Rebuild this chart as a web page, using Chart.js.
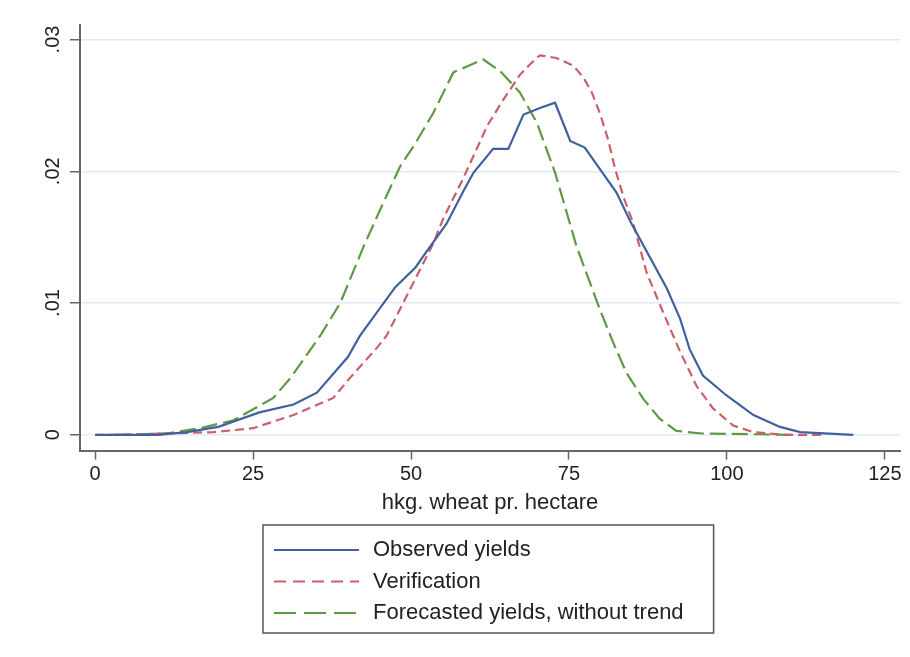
<!DOCTYPE html>
<html>
<head>
<meta charset="utf-8">
<script src="https://cdn.jsdelivr.net/npm/chart.js@4.4.1/dist/chart.umd.min.js"></script>
<style>
  html, body { margin: 0; padding: 0; background: #fff; }
  #wrap { width: 910px; height: 657px; }
</style>
</head>
<body>
<div id="wrap"><canvas id="densityChart"></canvas></div>
<script>
// values (x = hkg wheat per hectare, y = density)
const obsX = [0, 10, 14.5, 19.5, 26, 31.4, 35.1, 40, 41.9, 47.5, 50.7, 52, 55.6, 58.3, 59.9, 63, 65.4, 67.8, 70.4, 72.8, 75.2, 77.5, 82.5, 84.7, 90.5, 92.6, 94.1, 96.2, 99.9, 104.2, 108.4, 111.6, 120];
const obsY = [0, 0, .0002, .0006, .0017, .0023, .0032, .0059, .0075, .0112, .0127, .0136, .016, .0185, .0199, .0217, .0217, .0243, .0248, .0252, .0223, .0218, .0184, .0162, .0111, .0088, .0065, .0045, .003, .0015, .0006, .0002, 0];

const verX = [0, 5, 11, 18.7, 25, 31.4, 37.7, 40.3, 44.6, 46.1, 49.8, 53.5, 55.1, 58.3, 60.4, 62, 64.3, 67.2, 68.8, 70.4, 73, 75.7, 77.3, 78.6, 79.9, 81.2, 82.3, 83.6, 85.2, 87.3, 89.9, 92.6, 95.2, 97.8, 101, 104.2, 109, 115];
const verY = [0, 0, .0001, .0002, .0005, .0015, .0028, .0043, .0066, .0075, .011, .0145, .0164, .0195, .0217, .0234, .0252, .0273, .0281, .0288, .0286, .028, .0271, .026, .0244, .0224, .0202, .0181, .016, .0123, .0093, .0063, .0037, .002, .0007, .0002, 0, 0];

const fcX = [3, 11.3, 16.6, 21.9, 28.2, 30.9, 35.6, 38.8, 42.5, 45.6, 48.3, 50.4, 53.5, 56.7, 61.4, 64.1, 67.2, 69.9, 72.8, 76.2, 79.9, 82, 84.1, 86.8, 89.4, 92, 96, 110];
const fcY = [0, .0001, .0005, .0011, .0028, .0043, .0075, .01, .0143, .0176, .0204, .0219, .0244, .0275, .0285, .0276, .026, .0237, .0199, .0143, .0095, .007, .0047, .0027, .0012, .0003, .0001, 0];

const seriesNames = ['Observed yields', 'Verification', 'Forecasted yields, without trend'];
const xTicks = [0, 25, 50, 75, 100, 125];
const yTicks = [0, .01, .02, .03];

const FONT = '"Liberation Sans", Arial, Helvetica, sans-serif';
const pts = (xs, ys) => xs.map((x, i) => ({ x: x, y: ys[i] }));

// legend drawn as a boxed vertical list under the axis title
const boxLegend = {
  id: 'boxLegend',
  afterDraw(chart) {
    const ctx = chart.ctx;
    const area = chart.chartArea;
    const top = chart.scales.x.bottom + 5;
    const dashes = [[], [12, 7], [22, 8]];
    ctx.save();
    ctx.font = '22px ' + FONT;
    const textW = Math.max(...chart.data.datasets.map(d => ctx.measureText(d.label).width));
    const padL = 11, lineLen = 85, gap = 14, padR = 30, rowH = 31.5;
    const w = padL + lineLen + gap + textW + padR;
    const h = 108;
    const left = Math.round((area.left + area.right) / 2 - w / 2) - 2;
    ctx.strokeStyle = '#555';
    ctx.lineWidth = 1.5;
    ctx.strokeRect(left, top, w, h);
    chart.data.datasets.forEach((d, i) => {
      const y = top + 25 + i * rowH;
      ctx.strokeStyle = d.borderColor;
      ctx.lineWidth = 2;
      ctx.setLineDash(dashes[i]);
      ctx.beginPath();
      ctx.moveTo(left + padL, y);
      ctx.lineTo(left + padL + lineLen, y);
      ctx.stroke();
      ctx.setLineDash([]);
      ctx.fillStyle = '#222';
      ctx.textBaseline = 'middle';
      ctx.fillText(d.label, left + padL + lineLen + gap, y);
    });
    ctx.restore();
  }
};

let ctx = document.getElementById('densityChart').getContext('2d');

let myChart = new Chart(ctx, {
  type: 'line',
  data: {
    datasets: [{
      label: seriesNames[0],
      data: pts(obsX, obsY),
      borderColor: '#41609f',
      borderWidth: 2.2,
      pointRadius: 0,
      tension: 0
    }, {
      label: seriesNames[1],
      data: pts(verX, verY),
      borderColor: '#c9606a',
      borderWidth: 2.2,
      borderDash: [9, 5],
      pointRadius: 0,
      tension: 0
    }, {
      label: seriesNames[2],
      data: pts(fcX, fcY),
      borderColor: '#5e9a44',
      borderWidth: 2.2,
      borderDash: [16, 6],
      pointRadius: 0,
      tension: 0
    }]
  },
  options: {
    responsive: true,
    maintainAspectRatio: false,
    animation: false,
    devicePixelRatio: 1,
    layout: {
      padding: { left: 40, top: 25, right: 10, bottom: 137 }
    },
    plugins: {
      legend: { display: false },
      tooltip: { enabled: false }
    },
    scales: {
      x: {
        type: 'linear',
        min: -2.4,
        max: 127.4,
        afterBuildTicks: (scale) => {
          scale.ticks = xTicks.map(v => ({ value: v }));
        },
        ticks: {
          color: '#222',
          font: { family: FONT, size: 20 },
          padding: 3,
          maxRotation: 0,
          autoSkip: false
        },
        grid: {
          drawOnChartArea: false,
          tickColor: '#666',
          tickLength: 9,
          tickWidth: 1.5
        },
        border: { color: '#666', width: 2 },
        title: {
          display: true,
          text: 'hkg. wheat pr. hectare',
          color: '#222',
          font: { family: FONT, size: 22 },
          padding: { top: 0, bottom: 4 }
        }
      },
      y: {
        min: -0.0012,
        max: 0.0311,
        afterBuildTicks: (scale) => {
          scale.ticks = yTicks.map(v => ({ value: v }));
        },
        ticks: {
          color: '#222',
          font: { family: FONT, size: 20 },
          minRotation: 90,
          maxRotation: 90,
          crossAlign: 'center',
          padding: 3,
          callback: (v) => v === 0 ? '0' : v.toFixed(2).replace(/^0/, '')
        },
        grid: {
          color: '#e2e9f6',
          lineWidth: 1.5,
          tickColor: '#666',
          tickLength: 10,
          tickWidth: 1.5
        },
        border: { color: '#666', width: 2 }
      }
    }
  },
  plugins: [boxLegend]
});
</script>
</body>
</html>
